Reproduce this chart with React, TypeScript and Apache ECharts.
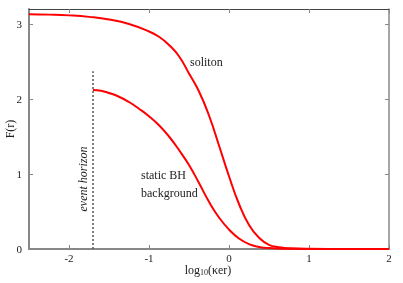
import React, { useEffect, useRef } from "react";
import * as echarts from "echarts";

const solitonX = [-2.5, -2.25, -2, -1.75, -1.5, -1.25, -1, -0.875, -0.75, -0.625, -0.5, -0.375, -0.25, -0.125, 0, 0.125, 0.25, 0.375, 0.5, 0.625, 0.75, 1, 1.5, 2];
const solitonF = [3.13, 3.125, 3.115, 3.095, 3.06, 3.0, 2.9, 2.83, 2.72, 2.57, 2.34, 2.1, 1.78, 1.38, 0.97, 0.6, 0.32, 0.15, 0.055, 0.022, 0.009, 0.002, 0, 0];

const bhX = [-1.7, -1.6, -1.5, -1.375, -1.25, -1.125, -1, -0.875, -0.75, -0.625, -0.5, -0.375, -0.25, -0.125, 0, 0.125, 0.25, 0.375, 0.5, 0.75, 1, 1.5, 2];
const bhF = [2.12, 2.11, 2.08, 2.03, 1.96, 1.87, 1.77, 1.65, 1.5, 1.32, 1.12, 0.88, 0.63, 0.42, 0.26, 0.14, 0.065, 0.028, 0.012, 0.003, 0.001, 0, 0];

const horizonX = -1.7;
const horizonTop = 2.37;

const xTicks = [-2, -1, 0, 1, 2];
const yTicks = [0, 1, 2, 3];

const SERIF = "Liberation Serif";

export default function App() {
  const ref = useRef<HTMLDivElement>(null);
  useEffect(() => {
    if (!ref.current) return;
    const chart = echarts.init(ref.current, undefined, { renderer: "svg" });
    const pair = (xs: number[], ys: number[]) => xs.map((x, i) => [x, ys[i]]);
    const baseX = {
      type: "value",
      min: -2.5,
      max: 2,
      splitLine: { show: false },
    };
    const baseY = {
      type: "value",
      min: 0,
      max: 3.2,
      splitLine: { show: false },
    };
    const txt = (text: string, x: number, y: number, extra: any = {}) => ({
      type: "text",
      x,
      y,
      ...extra.el,
      style: {
        text,
        fontFamily: SERIF,
        fontSize: 12,
        fill: "#222",
        verticalAlign: "middle",
        align: "left",
        ...extra.style,
      },
    });
    chart.setOption({
      animation: false,
      grid: { left: 29, right: 14, top: 9, bottom: 34, containLabel: false },
      xAxis: [
        {
          ...baseX,
          position: "bottom",
          axisLine: { show: true, onZero: false, lineStyle: { color: "#888", width: 2 } },
          axisTick: { show: true, inside: true, length: 4, customValues: xTicks, lineStyle: { color: "#888", width: 1 } },
          axisLabel: { show: true, customValues: xTicks, showMaxLabel: true, showMinLabel: true, hideOverlap: false, fontFamily: SERIF, fontSize: 11, lineHeight: 10, color: "#222", margin: 4, formatter: (v: number) => String(v) },
        },
        {
          ...baseX,
          position: "top",
          axisLine: { show: true, onZero: false, lineStyle: { color: "#444", width: 1 } },
          axisTick: { show: true, inside: true, length: 4, customValues: xTicks, lineStyle: { color: "#888", width: 1 } },
          axisLabel: { show: false },
        },
      ],
      yAxis: [
        {
          ...baseY,
          position: "left",
          axisLine: { show: true, onZero: false, lineStyle: { color: "#888", width: 2 } },
          axisTick: { show: true, inside: true, length: 4, customValues: yTicks, lineStyle: { color: "#888", width: 1 } },
          axisLabel: { show: true, customValues: yTicks, showMaxLabel: true, showMinLabel: true, fontFamily: SERIF, fontSize: 11, color: "#222", margin: 7, formatter: (v: number) => String(v) },
        },
        {
          ...baseY,
          position: "right",
          axisLine: { show: true, onZero: false, lineStyle: { color: "#888", width: 1.5 } },
          axisTick: { show: true, inside: true, length: 4, customValues: yTicks, lineStyle: { color: "#888", width: 1 } },
          axisLabel: { show: false },
        },
      ],
      series: [
        {
          type: "line",
          name: "horizon",
          xAxisIndex: 0,
          yAxisIndex: 0,
          data: [[horizonX, 0], [horizonX, horizonTop]],
          showSymbol: false,
          lineStyle: { color: "#555", width: 1.5, type: [2, 2] },
          z: 3,
        },
        {
          type: "line",
          name: "soliton",
          xAxisIndex: 0,
          yAxisIndex: 0,
          data: pair(solitonX, solitonF),
          showSymbol: false,
          smooth: true,
          lineStyle: { color: "#ff0000", width: 2 },
          z: 4,
        },
        {
          type: "line",
          name: "static BH",
          xAxisIndex: 0,
          yAxisIndex: 0,
          data: pair(bhX, bhF),
          showSymbol: false,
          smooth: true,
          lineStyle: { color: "#ff0000", width: 2 },
          z: 4,
        },
      ],
      graphic: [
        txt("soliton", 190, 62),
        txt("static BH", 141, 175),
        txt("background", 141, 193),
        txt("event horizon", 83, 179, { el: { rotation: Math.PI / 2 }, style: { align: "center", fontStyle: "italic" } }),
        txt("F(r)", 10, 129, { el: { rotation: Math.PI / 2 }, style: { align: "center" } }),
        {
          type: "text",
          x: 208,
          y: 264,
          style: {
            text: "{a|log}{s|10}{a|(κer)}",
            verticalAlign: "top",
            align: "center",
            rich: {
              a: { fontFamily: SERIF, fontSize: 12, lineHeight: 12, fill: "#222" },
              s: { fontFamily: SERIF, fontSize: 8, lineHeight: 12, fill: "#222", padding: [5, 0, 0, 0] },
            },
          },
        },
      ],
    });
    return () => chart.dispose();
  }, []);
  return <div ref={ref} style={{ width: 403, height: 283, position: "fixed", left: 0, top: 0 }} />;
}
